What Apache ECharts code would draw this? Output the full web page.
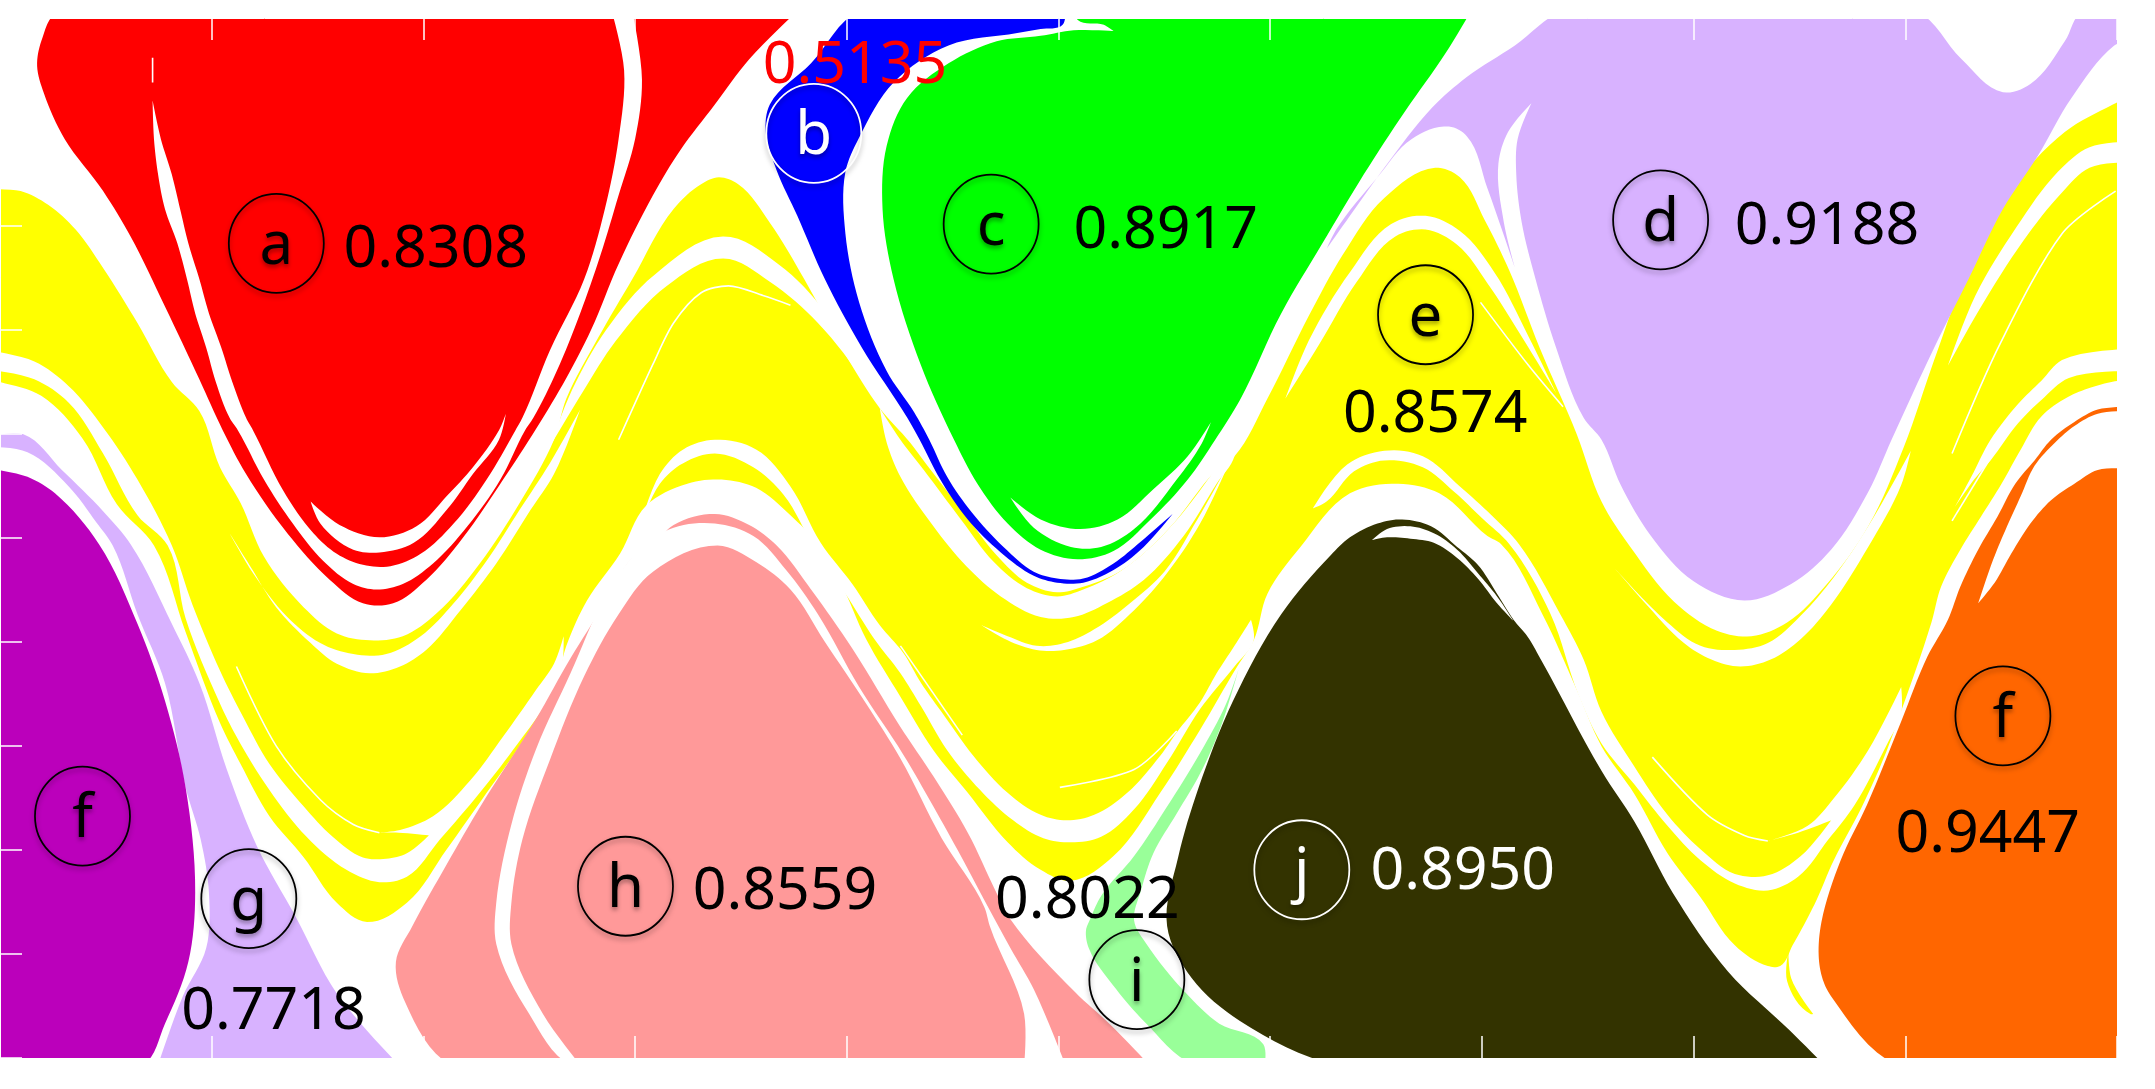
<!DOCTYPE html>
<html>
<head>
<meta charset="utf-8">
<style>html,body{margin:0;padding:0;background:#fff}#c{width:2155px;height:1089px}</style>
<script src="https://cdn.jsdelivr.net/npm/echarts@6/dist/echarts.min.js"></script>
</head>
<body>
<div id="c"></div>
<script>
// Region boundaries, in axis units [x, y]
const yellowMass = [[-10,138],[15,139],[35,149],[55,167],[75,195],[100,235],[125,278],[145,299],[160,340],[175,366],[192,405],[221,442],[245,461],[269,466],[293,463],[318,446],[349,410],[378,366],[403,320],[412,290],[435,246],[460,203],[490,152],[510,134],[523,129],[537,134],[560,162],[585,203],[615,258],[640,297],[662,322],[674,338],[701,373],[725,404],[747,424],[769,431],[788,427],[816,415],[850,385],[885,342],[898,332],[922,290],[952,230],[977,185],[1007,144],[1044,122],[1062,129],[1080,160],[1098,197],[1120,253],[1147,316],[1165,365],[1186,398],[1218,438],[1249,459],[1274,463],[1300,453],[1329,425],[1359,383],[1385,325],[1407,262],[1432,195],[1462,139],[1502,96],[1537,76],[1560,65],[1560,276],[1541,277],[1521,282],[1504,289],[1485,303],[1470,327],[1456,352],[1441,376],[1426,400],[1412,427],[1405,453],[1381,523],[1371,550],[1354,588],[1334,626],[1320,658],[1304,688],[1295,703],[1286,703],[1262,688],[1237,653],[1213,621],[1189,578],[1165,543],[1147,502],[1122,447],[1092,396],[1082,390],[1047,359],[1017,352],[982,359],[946,398],[922,432],[912,466],[900,485],[873,531],[844,577],[810,623],[779,641],[757,633],[733,613],[704,577],[679,546],[655,507],[630,465],[612,425],[595,396],[575,375],[550,355],[525,349],[500,352],[470,368],[451,403],[427,437],[412,470],[403,502],[378,543],[354,577],[325,618],[296,657],[267,671],[245,657],[221,624],[196,594],[175,556],[160,526],[135,460],[112,397],[85,367],[60,319],[30,288],[0,278],[-10,276]];
const yellowTail = [[1301,692],[1303,712],[1319,738],[1317,738],[1300,714]];

const gapUnderBlue = [[640,297],[655,320],[672,342],[699,378],[723,409],[747,428],[769,434],[788,429],[816,415],[850,385],[885,340],[898,320],[898,332],[885,352],[861,390],[832,422],[805,439],[781,449],[757,449],[728,434],[703,412],[679,383],[655,347],[645,322]];
const archPeak1 = [[400,325],[416,284],[441,240],[476,200],[526,172],[566,192],[601,228],[637,291],[652,318],[630,280],[595,235],[560,205],[526,188],[485,208],[448,248],[424,285]];
const archPeak2 = [[935,290],[952,248],[982,198],[1012,163],[1037,157],[1062,168],[1087,198],[1112,245],[1132,286],[1107,245],[1082,206],[1060,178],[1037,167],[1015,172],[987,205],[960,250]];
const archPeak3 = [[1548,103],[1520,107],[1497,125],[1467,165],[1437,215],[1417,266],[1440,225],[1472,175],[1500,140],[1520,122],[1548,118]];
const valley1Upper = [[167,388],[184,417],[209,449],[233,468],[257,476],[281,476],[306,463],[330,439],[354,408],[378,371],[400,337],[422,298],[403,345],[386,371],[361,410],[335,444],[310,473],[291,485],[269,490],[245,483],[226,468],[201,442],[182,412]];
const valley1Lower = [[-8,255],[25,263],[50,281],[75,311],[100,349],[125,397],[140,440],[160,488],[177,522],[196,556],[221,587],[242,609],[264,624],[281,625],[296,621],[312,608],[290,606],[276,606],[291,604],[315,594],[342,568],[366,536],[390,502],[403,483],[410,463],[409,484],[403,502],[373,546],[349,577],[320,611],[296,638],[276,642],[252,633],[223,609],[196,575],[172,536],[160,512],[135,450],[122,397],[100,375],[75,330],[50,293],[25,276],[-8,269]];
const band1 = [[465,385],[480,345],[497,327],[520,320],[550,327],[575,354],[597,395],[620,425],[640,455],[657,475],[670,497],[687,521],[708,550],[733,577],[757,593],[776,597],[796,593],[820,577],[844,550],[856,533],[873,511],[885,490],[898,470],[910,451],[912,466],[898,485],[873,516],[849,555],[825,589],[801,609],[779,613],[759,610],[737,597],[713,575],[689,546],[670,514],[655,490],[636,465],[615,432],[592,398],[570,360],[548,340],[520,330],[497,337],[480,352]];
const valley2Upper = [[714,455],[733,463],[754,470],[774,468],[796,458],[822,439],[847,416],[871,378],[894,337],[873,381],[849,417],[825,444],[798,466],[774,473],[754,473],[733,466]];
const band2 = [[955,370],[980,338],[1007,328],[1035,332],[1062,354],[1085,375],[1105,396],[1135,447],[1152,480],[1165,518],[1189,558],[1213,593],[1237,618],[1262,636],[1286,637],[1310,623],[1332,597],[1308,606],[1286,612],[1315,601],[1334,581],[1359,546],[1383,500],[1383,520],[1373,541],[1349,586],[1330,611],[1308,638],[1286,648],[1262,643],[1237,626],[1213,601],[1189,571],[1165,541],[1148,505],[1128,447],[1098,396],[1078,377],[1058,358],[1035,340],[1007,335],[985,343],[965,365]];
const valley3Upper = [[1175,414],[1213,453],[1237,470],[1262,473],[1286,468],[1310,448],[1334,420],[1359,383],[1390,328],[1383,353],[1359,398],[1332,440],[1310,465],[1288,480],[1266,485],[1245,480],[1225,468],[1196,438]];
const band3 = [[1548,254],[1500,262],[1485,277],[1468,294],[1448,320],[1434,347],[1422,369],[1436,349],[1448,335],[1468,308],[1485,291],[1505,275],[1548,270]];

const redBlob = [[42,8],[30,30],[27,48],[32,68],[47,101],[75,139],[95,172],[120,223],[145,276],[162,313],[179,345],[209,388],[240,422],[264,439],[286,439],[310,422],[337,391],[366,349],[390,312],[412,275],[430,240],[450,192],[475,142],[495,109],[520,76],[545,43],[580,8]];
const redSlit = [[111,73],[117,101],[125,127],[131,152],[137,177],[145,203],[152,228],[161,253],[169,278],[179,304],[184,313],[206,357],[228,388],[245,403],[264,411],[284,412],[306,403],[330,381],[354,349],[375,313],[380,304],[400,255],[425,203],[440,152],[450,101],[454,51],[445,8],[460,8],[467,58],[462,101],[450,142],[437,185],[422,228],[405,270],[388,304],[382,313],[364,349],[340,383],[315,410],[293,425],[274,429],[257,425],[235,408],[213,381],[192,349],[173,313],[167,304],[157,278],[150,253],[142,228],[136,203],[129,177],[120,152],[115,127],[112,101]];
const redCrescent = [[226,365],[247,382],[276,391],[303,383],[325,361],[344,340],[363,313],[368,301],[363,320],[344,345],[325,371],[301,395],[276,402],[257,400],[233,381]];

const blueBlob = [[625,8],[590,46],[560,76],[557,96],[565,124],[580,157],[600,203],[627,253],[660,304],[669,320],[684,349],[704,378],[728,402],[752,419],[769,424],[788,424],[813,413],[832,398],[853,374],[830,394],[810,410],[788,421],[769,421],[752,416],[730,398],[707,373],[689,347],[676,320],[665,300],[645,270],[625,220],[615,170],[615,125],[625,100],[650,60],[690,33],[740,24],[757,21],[773,18],[775,8]];

const greenBlob = [[782,8],[1070,8],[1052,38],[1022,81],[992,127],[962,177],[932,228],[902,291],[884,320],[864,349],[837,378],[810,401],[784,407],[757,400],[733,381],[711,352],[694,320],[670,266],[650,203],[642,152],[645,106],[660,71],[690,46],[725,30],[757,26],[781,22],[810,22.5],[803,18],[784,14.5]];
const greenCrescent = [[735,362],[757,378],[786,385],[813,378],[839,356],[864,332],[881,307],[874,323],[856,349],[825,385],[801,398],[779,398],[752,384]];

const lilacBlob = [[1137,8],[1394,8],[1427,43],[1457,67],[1477,61],[1502,30],[1515,8],[1548,8],[1548,28],[1538,33],[1507,71],[1482,114],[1457,152],[1432,203],[1407,253],[1376,320],[1359,358],[1332,400],[1303,425],[1269,437],[1232,423],[1201,390],[1179,353],[1165,320],[1152,304],[1132,253],[1117,203],[1107,162],[1103,127],[1104,101],[1114,75],[1097,96],[1090,119],[1094,162],[1102,195],[1082,137],[1067,99],[1054,92],[1027,101],[1002,129],[972,167],[965,181],[982,157],[1007,122],[1042,78],[1067,56],[1102,33]];
const lilacStrip = [[-8,318],[17,316],[45,342],[75,372],[95,396],[125,454],[145,497],[165,560],[187,616],[215,667],[245,723],[290,775],[115,775],[133,725],[150,690],[152,650],[146,611],[135,573],[120,497],[100,447],[82,397],[70,380],[50,354],[20,329],[-8,325]];

const magentaBlob = [[-8,341],[20,347],[40,359],[72,396],[100,454],[120,510],[135,573],[142,649],[137,700],[120,745],[104,775],[-8,775]];

const orangeBlob = [[1548,296],[1526,298],[1509,307],[1492,320],[1480,335],[1466,352],[1453,376],[1439,400],[1426,427],[1417,451],[1402,478],[1383,525],[1358,586],[1339,626],[1325,671],[1323,696],[1326,713],[1332,725],[1380,775],[1548,775]];
const orangeSlit = [[1548,299],[1526,301],[1509,310],[1495,322],[1480,339],[1470,361],[1460,383],[1450,407],[1439,439],[1451,424],[1463,403],[1477,381],[1492,364],[1509,352],[1526,342],[1548,341]];

const pinkBlob = [[328,775],[295,730],[288,700],[300,674],[325,629],[350,586],[390,523],[415,479],[440,439],[460,406],[475,397],[490,382],[520,374],[545,382],[565,397],[590,429],[620,472],[655,529],[679,565],[704,606],[725,650],[735,669],[782,722],[807,745],[836,775]];
const pinkSlit = [[415,775],[385,738],[361,687],[361,657],[372,600],[390,545],[415,490],[440,435],[465,400],[490,384],[520,381],[548,390],[572,415],[595,447],[625,500],[657,549],[679,587],[699,623],[716,655],[735,690],[752,720],[775,775],[745,775],[745,738],[720,674],[716,660],[685,610],[655,552],[630,512],[600,467],[575,429],[550,409],[522,397],[475,416],[450,447],[425,492],[400,553],[380,611],[372,657],[372,687],[395,738],[422,775]];

const mintBlob = [[901,487],[892,512],[873,548],[849,587],[825,623],[801,652],[793,669],[790,677],[792,690],[812,720],[832,743],[869,775],[920,775],[919,760],[887,745],[862,722],[834,687],[825,670],[830,648],[839,621],[856,592],[873,563],[888,529]];

const oliveBlob = [[1020,378],[1002,381],[982,391],[968,404],[932,447],[897,510],[872,573],[857,624],[849,674],[867,712],[902,743],[972,775],[1327,775],[1302,750],[1257,707],[1217,650],[1189,598],[1165,561],[1122,482],[1111,463],[1101,451],[1089,432],[1075,411],[1060,398],[1041,383]];
const oliveSlit = [[998,393],[1009,385],[1026,383],[1043,388],[1060,400],[1075,417],[1089,434],[1101,452],[1089,439],[1075,421],[1060,406],[1043,395],[1026,392],[1009,391]];

// Hairline gaps
const hair1 = [[172,485],[201,543],[233,582],[257,600],[276,606]];
const hair2 = [[1202,551],[1242,593],[1269,608],[1286,612]];
const hair3 = [[771,573],[825,560],[856,532]];
const hair4 = [[575,222],[555,215],[530,208],[510,213],[490,235],[475,265],[450,320]];
const hair5 = [[1456,320],[1420,379]];
const hair6 = [[1539,139],[1500,170],[1455,250],[1420,330]];
const hair7 = [[1077,220],[1112,266],[1137,296]];
const hair8 = [[111,42],[111,60]];
const hair9 = [[655,470],[700,535]];
const hair10 = [[1049,49],[1059,43]];

// Ticks
const xTickStep = 154;
const yTicks = [13,88.7,164.4,240.1,315.8,391.5,467.2,542.9,618.6,694.3,770];

// Annotations
const badgeNames = ['a','b','c','d','e','f','g','h','i','j','f'];
const badgeX = [201,592,721,1208,1037,60,181,455,827,947,1457];
const badgeY = [177,97,163,160,229,594,654,645,713,633,521];
const badgeTone = ['#000','#fff','#000','#000','#000','#000','#000','#000','#000','#fff','#000'];
const valueNames = ['0.8308','0.5135','0.8917','0.9188','0.8574','0.9447','0.7718','0.8559','0.8022','0.8950'];
const valueX = [317,622,848,1329,1044,1446,199,571,791,1064];
const valueY = [182,48,168,165,302,608,737,649,656,635];
const valueTone = ['#000','#ff0000','#000','#000','#000','#000','#000','#000','#000','#fff'];

const Y='#ffff00', W='#ffffff';
const fills = [
 [yellowMass,Y],[yellowTail,Y],
 [gapUnderBlue,W],[archPeak1,W],[archPeak2,W],[archPeak3,W],
 [valley1Upper,W],[valley1Lower,W],[band1,W],[valley2Upper,W],[band2,W],[valley3Upper,W],[band3,W],
 [lilacStrip,'#d8b2ff'],[lilacBlob,'#d8b2ff'],[magentaBlob,'#bb00bb'],
 [redBlob,'#ff0000'],[redSlit,W],[redCrescent,W],
 [blueBlob,'#0000ff'],[greenBlob,'#00ff00'],[greenCrescent,W],
 [orangeBlob,'#ff6600'],[orangeSlit,W],
 [pinkBlob,'#ff9999'],[pinkSlit,W],[mintBlob,'#99ff99'],
 [oliveBlob,'#333300'],[oliveSlit,W]
];
const hairs = [hair1,hair2,hair3,hair4,hair5,hair6,hair7,hair8,hair9,hair10];

// Rounded outline through the projected points; sharp corners stay sharp.
function rounded(pts){
  var n=pts.length,out=[],tan=[];
  for(var i=0;i<n;i++){
    var a=pts[(i+n-1)%n],b=pts[i],c=pts[(i+1)%n];
    var ux=b[0]-a[0],uy=b[1]-a[1],vx=c[0]-b[0],vy=c[1]-b[1];
    var lu=Math.hypot(ux,uy)||1,lv=Math.hypot(vx,vy)||1;
    var cos=(ux*vx+uy*vy)/(lu*lv);
    var tx=ux/lu+vx/lv,ty=uy/lu+vy/lv,lt=Math.hypot(tx,ty)||1;
    tan.push(cos<0.25?[0,0,0,0]:[tx/lt*lu,ty/lt*lu,tx/lt*lv,ty/lt*lv]);
  }
  for(i=0;i<n;i++){
    var p=pts[i],q=pts[(i+1)%n],t0=tan[i],t1=tan[(i+1)%n];
    for(var k=0;k<8;k++){
      var s=k/8,s2=s*s,s3=s2*s;
      var h00=2*s3-3*s2+1,h10=s3-2*s2+s,h01=-2*s3+3*s2,h11=s3-s2;
      out.push([h00*p[0]+h10*t0[2]+h01*q[0]+h11*t1[0],h00*p[1]+h10*t0[3]+h01*q[1]+h11*t1[1]]);
    }
  }
  return out;
}

const FONT = '"Noto Sans", sans-serif';
const fillSeries = fills.map(function(f,i){
  return {
    type:'custom', coordinateSystem:'cartesian2d', clip:true, silent:true, z:2+i*0.001,
    data:f[0], encode:{x:0,y:1},
    renderItem:function(params,api){
      if(params.dataIndex!==0) return null;
      return {type:'polygon',shape:{points:rounded(f[0].map(function(p){return api.coord(p);}))},
              style:{fill:f[1],stroke:null}};
    }
  };
});
const hairSeries = hairs.map(function(h){
  return {
    type:'line', data:h, showSymbol:false, smooth:0.3, silent:true, z:3, clip:true,
    lineStyle:{color:'#fff',width:1.6}, animation:false
  };
});
const ticks = {show:true,inside:true,length:22,lineStyle:{color:'#fff',width:1.5}};
const line = {show:true,lineStyle:{color:'#fff',width:1}};
const xBase = {type:'value',min:0,max:1540,interval:xTickStep,splitLine:{show:false},axisLabel:{show:false},axisLine:line,axisTick:ticks,z:10};
const yBase = {type:'value',min:13,max:770,inverse:true,splitLine:{show:false},axisLabel:{show:false},axisLine:line,
               axisTick:Object.assign({},ticks,{customValues:yTicks}),z:10};

const option = {
  animation:false,
  backgroundColor:'#ffffff',
  grid:{left:0,top:18,width:2117,height:1040,containLabel:false},
  xAxis:[Object.assign({position:'bottom'},xBase),Object.assign({position:'top'},xBase)],
  yAxis:[Object.assign({position:'left'},yBase),Object.assign({position:'right'},yBase)],
  series:fillSeries.concat(hairSeries).concat([
    {type:'scatter',z:20,silent:true,clip:false,symbol:'circle',symbolSize:[95,99],
     data:badgeNames.map(function(n,i){return {name:n,value:[badgeX[i],badgeY[i]],
       itemStyle:{color:'rgba(0,0,0,0)',opacity:1,borderColor:badgeTone[i],borderWidth:1.8,shadowColor:'rgba(0,0,0,0.35)',shadowBlur:5,shadowOffsetY:3},
       label:{color:badgeTone[i]}};}),
     label:{show:true,position:'inside',offset:[0,4],formatter:'{b}',fontFamily:FONT,fontSize:60,textShadowColor:'rgba(0,0,0,0.35)',textShadowBlur:4,textShadowOffsetY:3}},
    {type:'scatter',z:21,silent:true,clip:false,symbolSize:1,itemStyle:{color:'rgba(0,0,0,0)',opacity:1},
     data:valueNames.map(function(n,i){return {name:n,value:[valueX[i],valueY[i]],label:{color:valueTone[i]}};}),
     label:{show:true,position:'inside',formatter:'{b}',fontFamily:FONT,fontSize:59}}
  ])
};
echarts.init(document.getElementById('c')).setOption(option);
</script>
</body>
</html>
